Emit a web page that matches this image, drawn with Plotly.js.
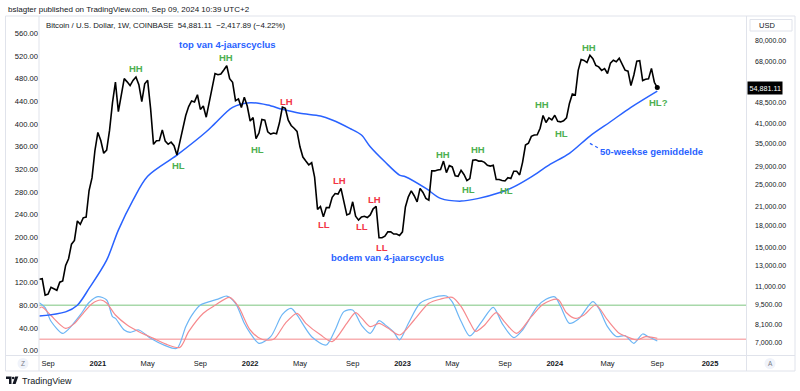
<!DOCTYPE html>
<html><head><meta charset="utf-8">
<script src="https://cdn.plot.ly/plotly-3.0.1.min.js"></script>
<style>html,body{margin:0;padding:0;background:#fff;}#chart{width:800px;height:391px;}</style>
</head><body><div id="chart"></div>
<script>
// ---------- DATA ----------
const startWeek = '2020-08-17';
const closes = [
 11650,11700,10250,10330,10920,10770,10660,11380,11500,13030,13760,15480,15960,18680,18180,19150,19270,23880,26440,33000,
 38200,35800,32280,33100,38900,48600,57400,45200,51000,59000,57500,55800,58200,59800,56200,49000,56600,58200,46400,34700,
 35700,35800,39000,35600,34700,35300,34300,31800,35400,39900,43800,47100,49300,48900,51800,46000,47300,43200,48200,54700,
 61500,60900,61300,63300,65500,59000,57300,49400,50100,46700,50800,47300,
 41900,43100,36300,38000,42400,42200,38400,37700,38000,37800,41300,46900,46400,42200,40400,39500,38500,34000,31300,30300,
 29400,29900,26600,20500,21000,19300,20800,20800,22600,23300,23200,24300,21500,19600,19800,21800,19400,18800,19300,19400,
 19200,19600,20600,21000,16300,16300,16500,17100,17100,16800,16800,16600,
 17100,20900,22700,23800,22900,21800,24300,23500,22400,22100,28000,27990,28200,28300,30300,27600,29200,28900,26900,26800,
 28100,27200,25900,26300,30500,30600,30300,30300,30000,29300,29100,29300,26100,26100,25900,25800,26500,26300,27900,27900,
 27100,30000,34500,35000,37000,37400,37500,39500,43800,41400,43000,42300,
 43900,41800,41600,42000,43000,48300,52100,51700,63100,68900,68400,67200,71300,69300,65700,64900,63100,64000,61500,66900,
 68500,67700,69600,66600,63200,62700,55800,60800,68000,68200,58100,58700,58900,64100,57300,54881.11
];
const maWeek   = [0,9,13,17,23,27,32,37,47,57,60,66,72,78,83,89,96,100,106,110,113,118,123,125,132,137,144,150,157,162,168,174,181,188,195,202,211];
const maValues = [8650,8950,9450,10820,13600,17340,22100,26800,31800,38400,41100,46800,48570,47670,46040,44570,43600,42220,39470,37400,34010,30120,27050,26690,24290,22410,21920,22410,23440,24610,26690,29340,32250,37100,41640,46800,53380];
const kWeek   = [0,2,4,8,10,14,17,20,23,25,26,29,31,34,38,43,47,50,52,55,57,61,64,67,70,72,75,79,83,86,88,93,98,101,104,107,110,113,116,118,121,123,126,130,134,139,141,144,147,151,155,158,162,165,170,173,176,178,181,184,189,191,194,197,200,203,206,208,211];
const kValues = [84.7,76,52,30.5,38,63,85,95.3,89.4,60,57,36.5,32.4,36.5,21.8,9,4.2,42.4,62,80.6,84.7,91,96.4,83.6,48.3,31,13,24.7,64,74.8,63,24.7,10,36.5,68.9,71.8,45,30.7,53,46,33,19,48,83.6,93,96.5,86,52,26,51,76.6,48.3,23,36.5,77.7,90.6,95,78,48.3,55.4,86.5,75,42.4,25,26.5,13,29.5,24.7,17];
const dWeek   = [0,1,4,9,12,15,18,21,23,26,30,34,39,43,48,51,56,60,65,68,72,76,80,84,88,91,96,100,105,108,110,113,116,119,123,128,133,137,141,144,147,149,152,156,159,163,168,172,177,180,183,186,190,194,198,200,204,207,211];
const dValues = [75,77,62,39.4,48,66,83,89.4,84,63,45.4,33.5,21.8,12,5.9,33.5,66,80,94.1,77.7,36.5,20.1,20.1,48.3,66,48.3,28,16,48.3,67,58,42.4,48.3,40,27.7,54.2,83.6,91,94.1,78,50,34,45,67,50,30.7,60,82,90.6,67,57,63,80.6,54.2,30.7,26,18.9,24.7,22];
const levels = [80, 20];
const leftTicks = [0,40,80,120,160,200,240,280,320,360,400,440,480,520,560];
const rightTicks = [7000,8100,9500,11000,13000,15000,18000,21000,25000,29000,35000,41000,48500,68000,80000];
const timeTickDates = ['2020-09-07','2021-01-04','2021-05-03','2021-09-06','2022-01-03','2022-05-02','2022-09-05','2023-01-02','2023-05-01','2023-09-04','2024-01-01','2024-05-06','2024-09-02','2025-01-06'];
const timeTickText  = ['Sep','2021','May','Sep','2022','May','Sep','2023','May','Sep','2024','May','Sep','2025'];
const lastPrice = 54881.11;
const swingLabels = [
 {t:'HH',d:'2021-04-04',p:64130,c:'g'},{t:'HH',d:'2021-11-06',p:70130,c:'g'},
 {t:'LH',d:'2022-03-31',p:49230,c:'r'},{t:'HL',d:'2021-07-16',p:29340,c:'g'},
 {t:'HL',d:'2022-01-20',p:33390,c:'g'},{t:'LH',d:'2022-08-04',p:25840,c:'r'},
 {t:'LL',d:'2022-06-28',p:18160,c:'r'},{t:'LH',d:'2022-10-28',p:22230,c:'r'},
 {t:'LL',d:'2022-09-27',p:17810,c:'r'},{t:'LL',d:'2022-11-15',p:15080,c:'r'},
 {t:'HH',d:'2023-04-08',p:31990,c:'g'},{t:'HH',d:'2023-07-02',p:33310,c:'g'},
 {t:'HL',d:'2023-06-08',p:24100,c:'g'},{t:'HL',d:'2023-09-07',p:23830,c:'g'},
 {t:'HH',d:'2023-12-02',p:48060,c:'g'},{t:'HL',d:'2024-01-18',p:37910,c:'g'},
 {t:'HH',d:'2024-03-23',p:76020,c:'g'},{t:'HL?',d:'2024-09-05',p:48720,c:'g'},
 {t:'top van 4-jaarscyclus',d:'2021-11-10',p:78080,c:'b'},
 {t:'bodem van 4-jaarscyclus',d:'2022-11-28',p:13900,c:'b'},
 {t:'50-weekse gemiddelde',d:'2024-08-19',p:32670,c:'b'}
];
const connector = {d0:'2024-03-25',p0:34960,d1:'2024-04-16',p1:33570};

// ---------- BUILD ----------
const dates = closes.map((_, i) => new Date(Date.parse(startWeek + 'T00:00:00Z') + i * 7 * 864e5).toISOString().slice(0, 10));
const W = 800, H = 391, L = 39, R = 54, T = 16, B = 36;
const PX = x => (x - L) / (W - L - R);
const PY = y => (H - B - y) / (H - T - B);
const FONT = 'Liberation Sans, Arial, sans-serif';
const TXT = '#131722';
const colors = {g:'#4caf50', r:'#f23645', b:'#2962ff'};
const fmt = v => v.toLocaleString('en-US', {minimumFractionDigits:2, maximumFractionDigits:2});

const traces = [
 {x:kWeek.map(i=>dates[i]), y:kValues, yaxis:'y', type:'scatter', mode:'lines', line:{color:'#6db6f5', width:1.2, shape:'spline', smoothing:0.8}, hoverinfo:'skip'},
 {x:dWeek.map(i=>dates[i]), y:dValues, yaxis:'y', type:'scatter', mode:'lines', line:{color:'#f6898d', width:1.2, shape:'spline', smoothing:0.8}, hoverinfo:'skip'},
 {x:maWeek.map(i=>dates[i]), y:maValues, yaxis:'y2', type:'scatter', mode:'lines', line:{color:'#2962ff', width:1.5, shape:'spline', smoothing:0.9}, hoverinfo:'skip'},
 {x:dates, y:closes, yaxis:'y2', type:'scatter', mode:'lines', line:{color:'#000000', width:1.6}, hoverinfo:'skip'},
 {x:dates.slice(-1), y:closes.slice(-1), yaxis:'y2', type:'scatter', mode:'markers', marker:{color:'#000', size:5}, hoverinfo:'skip'},
 {x:[connector.d0, connector.d1], y:[connector.p0, connector.p1], yaxis:'y2', type:'scatter', mode:'lines', line:{color:'#2962ff', width:1.3, dash:'dot'}, hoverinfo:'skip'}
];

const shapes = [];
levels.forEach((lv, k) => shapes.push({type:'line', xref:'paper', x0:0, x1:1, yref:'y', y0:lv, y1:lv, layer:'below',
  line:{color: k===0 ? '#a8d8aa' : '#f8b0b2', width:1.5}}));
// frame
const frame = '#e0e3eb';
shapes.push({type:'rect', xref:'paper', yref:'paper', x0:PX(5.5), x1:PX(795), y0:PY(16), y1:PY(371), line:{color:frame, width:1}});
shapes.push({type:'line', xref:'paper', yref:'paper', x0:PX(39), x1:PX(39), y0:PY(16), y1:PY(371), line:{color:frame, width:1}});
shapes.push({type:'line', xref:'paper', yref:'paper', x0:PX(746.5), x1:PX(746.5), y0:PY(16), y1:PY(371), line:{color:frame, width:1}});
shapes.push({type:'line', xref:'paper', yref:'paper', x0:PX(5.5), x1:PX(795), y0:PY(355.5), y1:PY(355.5), line:{color:frame, width:1}});
// USD box
shapes.push({type:'rect', xref:'paper', yref:'paper', x0:PX(750), x1:PX(792), y0:PY(19.5), y1:PY(31), line:{color:frame, width:1}, fillcolor:'#fff'});
// Z and A buttons
shapes.push({type:'circle', xref:'paper', yref:'paper', x0:PX(17.5), x1:PX(28.5), y0:PY(369), y1:PY(358), fillcolor:'#f0f3fa', line:{width:0}});
shapes.push({type:'circle', xref:'paper', yref:'paper', x0:PX(764.5), x1:PX(775.5), y0:PY(369), y1:PY(358), fillcolor:'#f0f3fa', line:{width:0}});
// TradingView logo
const P = pts => pts.map((p,i)=>(i?'L':'M')+PX(p[0]).toFixed(5)+','+PY(p[1]).toFixed(5)).join(' ')+' Z';
shapes.push({type:'path', xref:'paper', yref:'paper', path:P([[6,376.5],[11.5,376.5],[11.5,384],[9,384],[9,379],[6,379]]), fillcolor:TXT, line:{width:0}});
shapes.push({type:'circle', xref:'paper', yref:'paper', x0:PX(11.9), x1:PX(14.5), y0:PY(379.3), y1:PY(376.7), fillcolor:TXT, line:{width:0}});
shapes.push({type:'path', xref:'paper', yref:'paper', path:P([[15.2,376.5],[18.3,376.5],[15.6,384],[12.5,384]]), fillcolor:TXT, line:{width:0}});

const ann = [];
const pAnn = (x, y, text, size, opts) => ann.push(Object.assign({xref:'paper', yref:'paper', x:PX(x), y:PY(y), text, showarrow:false,
  xanchor:'left', yanchor:'middle', font:{family:FONT, size, color:TXT}}, opts||{}));
pAnn(6, 9.5, 'bslagter published on TradingView.com, Sep 09, 2024 10:39 UTC+2', 8);
pAnn(43.5, 25, 'Bitcoin / U.S. Dollar, 1W, COINBASE&nbsp;&nbsp;54,881.11&nbsp;&nbsp;−2,417.89 (−4.22%)', 7.8);
pAnn(757, 25.5, 'USD', 7.5);
pAnn(19.5, 380.5, 'TradingView', 9, {font:{family:FONT, size:9, color:TXT}});
pAnn(23, 363.8, 'Z', 6.5, {xanchor:'center', font:{family:FONT, size:6.5, color:'#787b86'}});
pAnn(770, 363.8, 'A', 6.5, {xanchor:'center', font:{family:FONT, size:6.5, color:'#787b86'}});
ann.push({xref:'paper', x:1, xanchor:'left', xshift:0.5, yref:'y2', y:Math.log10(lastPrice), yanchor:'middle', text:fmt(lastPrice),
  showarrow:false, bgcolor:'#000', borderpad:1.5, font:{family:FONT, size:7.2, color:'#fff'}});
swingLabels.forEach(s => ann.push({xref:'x', yref:'y2', x:s.d, y:Math.log10(s.p), text:'<b>'+s.t+'</b>', showarrow:false,
  xanchor:'center', yanchor:'middle', font:{family:FONT, size:9.5, color:colors[s.c]}}));

const layout = {
  width:W, height:H, margin:{l:L, r:R, t:T, b:B}, paper_bgcolor:'#fff', plot_bgcolor:'#fff', showlegend:false,
  font:{family:FONT, color:TXT},
  xaxis:{type:'date', range:['2020-08-16 08:00','2025-04-02'], tickmode:'array', tickvals:timeTickDates,
    ticktext:timeTickText.map(t=>/^\d{4}$/.test(t)?'<b>'+t+'</b>':t), showgrid:false, zeroline:false, showline:false,
    ticks:'', tickfont:{family:FONT, size:7.5, color:TXT}, ticklabelstandoff:2, fixedrange:true},
  yaxis:{range:[-7.6,590.5], tickmode:'array', tickvals:leftTicks, ticktext:leftTicks.map(fmt), showgrid:false, zeroline:false,
    showline:false, ticks:'', tickfont:{family:FONT, size:7.6, color:TXT}, side:'left', fixedrange:true},
  yaxis2:{type:'log', range:[3.8005,4.9909], overlaying:'y', side:'right', tickmode:'array', tickvals:rightTicks,
    ticktext:rightTicks.map(fmt), showgrid:false, zeroline:false, showline:false, ticks:'',
    tickfont:{family:FONT, size:7, color:TXT}, ticklabelstandoff:8, fixedrange:true},
  shapes, annotations:ann
};
Plotly.newPlot('chart', traces, layout, {staticPlot:true, displayModeBar:false});
</script></body></html>
